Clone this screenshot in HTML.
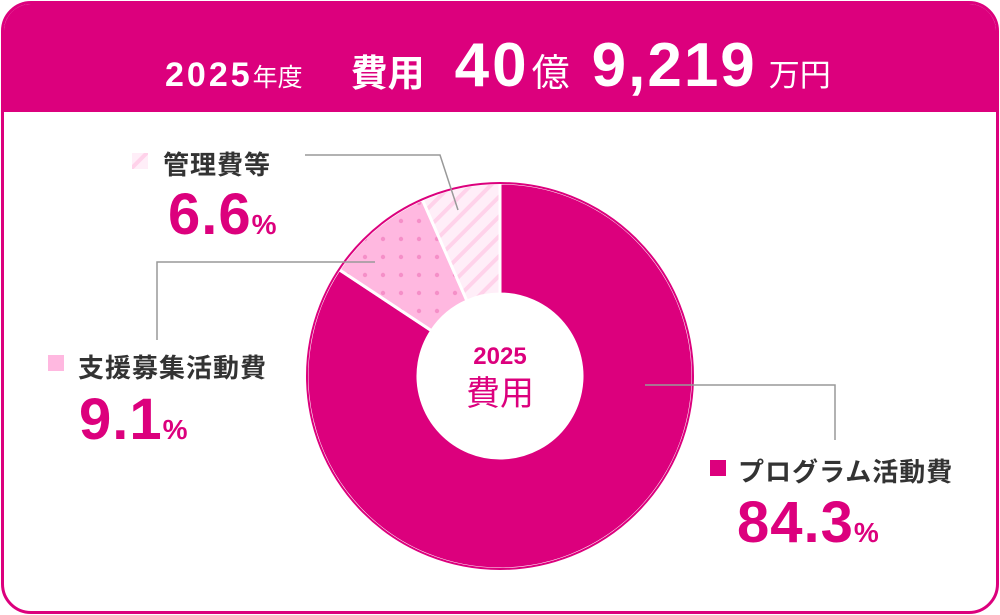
<!DOCTYPE html>
<html><head><meta charset="utf-8"><style>
body{margin:0;width:1000px;height:615px;background:#fff;font-family:"Liberation Sans","Noto Sans CJK JP",sans-serif;overflow:hidden}
.card{position:absolute;left:1px;top:1px;width:992px;height:607px;border:3px solid #dc007d;border-radius:30px;overflow:hidden}
.hdr{position:absolute;left:0;top:0;width:100%;height:108px;background:#dc007d;color:#fff}
.line{position:absolute;left:161px;top:31px;line-height:1;white-space:nowrap}
.line span{display:inline-block}
.lab{position:absolute;color:#333;font-size:26px;font-weight:bold;white-space:nowrap;letter-spacing:1px}
.pct{position:absolute;color:#dc007d;font-size:58px;font-weight:bold;white-space:nowrap;letter-spacing:1px;line-height:1}
.pct small{font-size:28px;letter-spacing:0}
</style></head><body>
<div class="card">
<div class="hdr">
<div class="line">
<span style="font-size:34px;font-weight:bold;letter-spacing:3px">2025</span><span style="font-size:25px">年度</span><span style="font-size:37px;margin-left:48px;font-weight:bold">費用</span><span style="font-size:62px;font-weight:bold;margin-left:30px;letter-spacing:3px">40</span><span style="font-size:38px;margin-left:2px">億</span><span style="font-size:62px;font-weight:bold;margin-left:22px;letter-spacing:2px">9,219</span><span style="font-size:31px;margin-left:12px">万円</span>
</div>
</div>
</div>
<svg width="1000" height="615" style="position:absolute;left:0;top:0">
<defs>
<pattern id="dots" width="18" height="18" patternUnits="userSpaceOnUse"><rect width="18" height="18" fill="#ffb8e0"/><circle cx="5" cy="5" r="2.2" fill="#f58fc8"/></pattern>
<pattern id="stripes" width="14" height="14" patternUnits="userSpaceOnUse" patternTransform="rotate(45)"><rect width="14" height="14" fill="#ffeef8"/><rect width="4" height="14" fill="#ffd2ea"/></pattern>
</defs>
<g id="slices"></g>
<circle cx="500" cy="376" r="82" fill="#fff"/>
<text x="500" y="364" text-anchor="middle" font-size="24" font-weight="bold" fill="#dc007d">2025</text>
<text x="500" y="405" text-anchor="middle" font-size="34" fill="#dc007d">費用</text>
<polyline points="305,155 440,155 458,210" fill="none" stroke="#999" stroke-width="1.5"/>
<polyline points="157,340 157,262 375,262" fill="none" stroke="#999" stroke-width="1.5"/>
<polyline points="645,385 835,385 835,440" fill="none" stroke="#999" stroke-width="1.5"/>
<rect x="132" y="153" width="16" height="16" fill="url(#stripes)"/>
<rect x="48" y="355" width="16" height="16" fill="#ffb8e0"/>
<rect x="710" y="460" width="16" height="16" fill="#dc007d"/>
</svg>
<div class="lab" style="left:163px;top:145px">管理費等</div>
<div class="pct" style="left:168px;top:186px">6.6<small>%</small></div>
<div class="lab" style="left:78px;top:348px">支援募集活動費</div>
<div class="pct" style="left:79px;top:391px">9.1<small>%</small></div>
<div class="lab" style="left:738px;top:452px">プログラム活動費</div>
<div class="pct" style="left:737px;top:494px">84.3<small>%</small></div>
<script>
const categories=["プログラム活動費","支援募集活動費","管理費等"];
const values=[84.3,9.1,6.6];
const fills=["#dc007d","url(#dots)","url(#stripes)"];
const g=document.getElementById('slices');
const cx=500,cy=376,R=193,r=82;
const total=values.reduce((a,b)=>a+b,0);
let a0=0;
function pt(rad,a){return [cx+rad*Math.sin(a),cy-rad*Math.cos(a)];}
values.forEach((v,i)=>{
  const a1=a0+v/total*2*Math.PI;
  const lg=(a1-a0)>Math.PI?1:0;
  const [x0,y0]=pt(R,a0),[x1,y1]=pt(R,a1),[x2,y2]=pt(r,a1),[x3,y3]=pt(r,a0);
  const p=document.createElementNS("http://www.w3.org/2000/svg","path");
  p.setAttribute("d",`M${x0},${y0}A${R},${R} 0 ${lg} 1 ${x1},${y1}L${x2},${y2}A${r},${r} 0 ${lg} 0 ${x3},${y3}Z`);
  p.setAttribute("fill",fills[i]);
  p.setAttribute("stroke","#fff");p.setAttribute("stroke-width","3");
  
  
  g.appendChild(p);
  a0=a1;
});
const ring=document.createElementNS("http://www.w3.org/2000/svg","circle");
ring.setAttribute("cx",cx);ring.setAttribute("cy",cy);ring.setAttribute("r",R);
ring.setAttribute("fill","none");ring.setAttribute("stroke","#dc007d");ring.setAttribute("stroke-width","2");


g.appendChild(ring);
</script>
</body></html>
